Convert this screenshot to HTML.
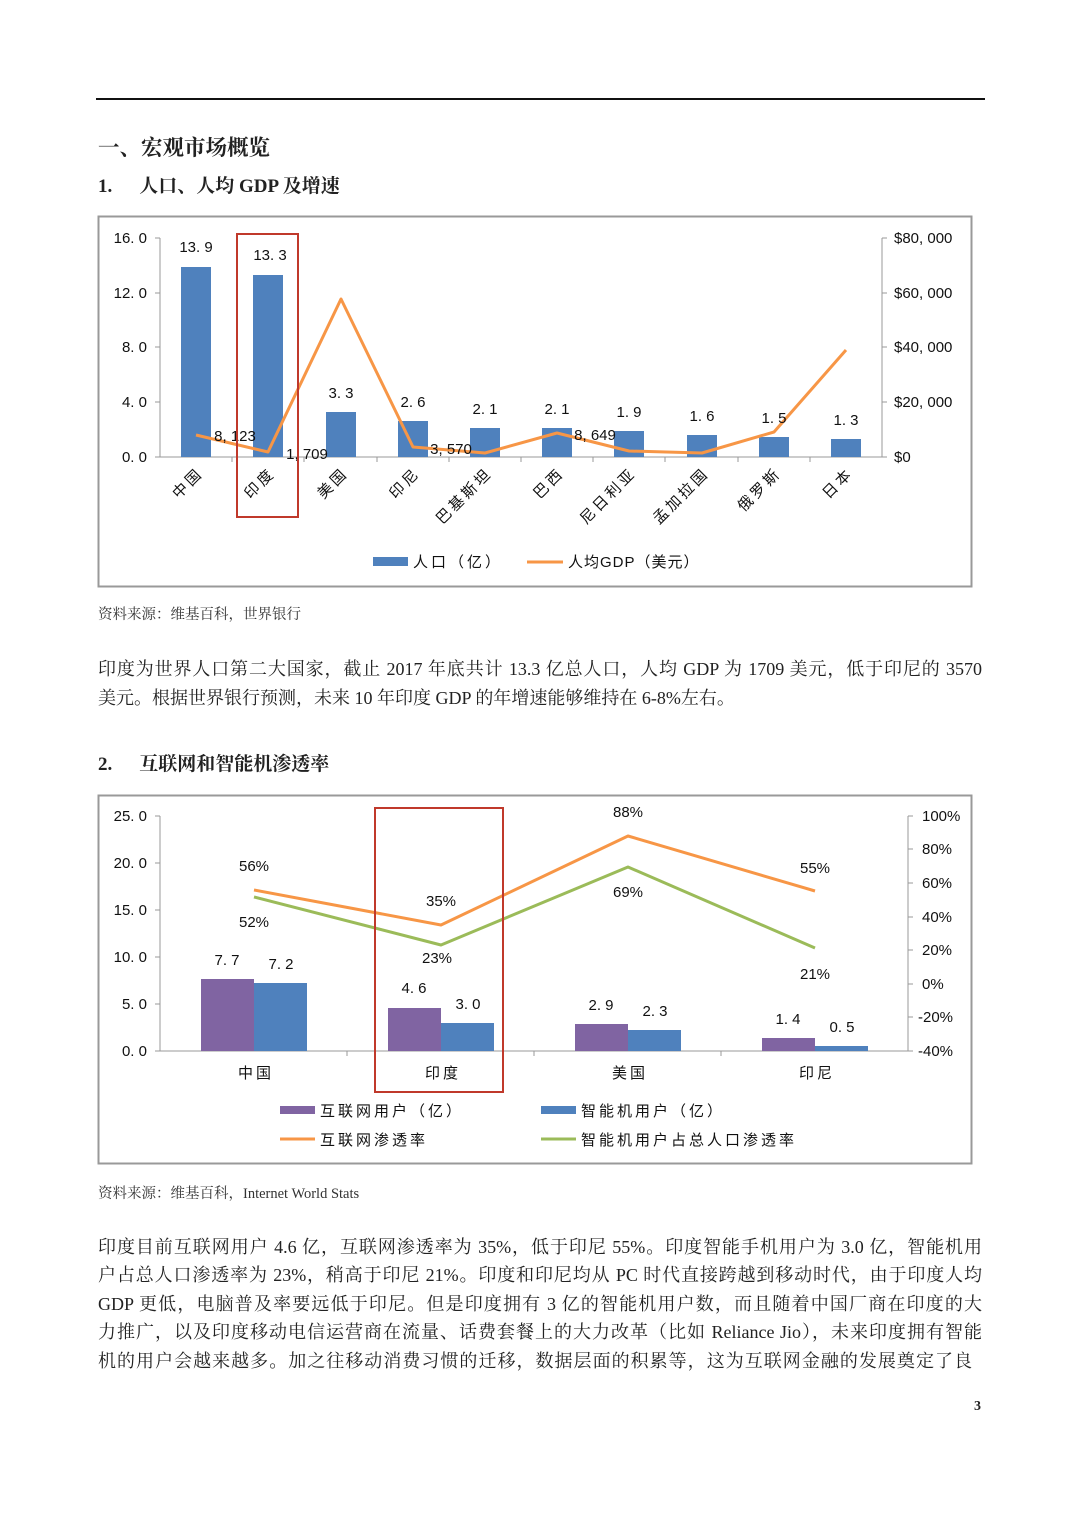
<!DOCTYPE html>
<html><head><meta charset="utf-8">
<style>
html,body{margin:0;padding:0;background:#fff;}
body{width:1080px;height:1528px;position:relative;overflow:hidden;font-family:"Liberation Serif","Noto Serif CJK SC",serif;color:#222;}
.t{position:absolute;white-space:nowrap;}
.h1{font-weight:bold;font-size:21.5px;}
.h2{font-weight:bold;font-size:19px;}
.src{font-size:14.5px;color:#333;}
.p{position:absolute;left:98px;width:884px;font-size:18px;line-height:28.5px;text-align:justify;text-align-last:justify;white-space:nowrap;}
.p.last{text-align-last:left;}
svg{position:absolute;left:0;top:0;}
svg text{font-family:"Liberation Sans","Noto Sans CJK SC",sans-serif;fill:#111;}
.sp{letter-spacing:3px;}
</style></head><body>
<div style="position:absolute;left:96px;top:98px;width:889px;height:2px;background:#111"></div>
<div class="t h1" style="left:98px;top:131px">一、宏观市场概览</div>
<div class="t h2" style="left:98px;top:171px">1.<span style="display:inline-block;width:27px"></span>人口、人均 GDP 及增速</div>
<div class="t src" style="left:98px;top:603px">资料来源：维基百科，世界银行</div>
<div class="p" style="top:655px">印度为世界人口第二大国家，截止 2017 年底共计 13.3 亿总人口，人均 GDP 为 1709 美元，低于印尼的 3570</div>
<div class="p last" style="top:684px">美元。根据世界银行预测，未来 10 年印度 GDP 的年增速能够维持在 6-8%左右。</div>
<div class="t h2" style="left:98px;top:749px">2.<span style="display:inline-block;width:27px"></span>互联网和智能机渗透率</div>
<div class="t src" style="left:98px;top:1182px">资料来源：维基百科，Internet World Stats</div>
<div class="p" style="top:1233px">印度目前互联网用户 4.6 亿，互联网渗透率为 35%，低于印尼 55%。印度智能手机用户为 3.0 亿，智能机用</div>
<div class="p" style="top:1261px">户占总人口渗透率为 23%，稍高于印尼 21%。印度和印尼均从 PC 时代直接跨越到移动时代，由于印度人均</div>
<div class="p" style="top:1290px">GDP 更低，电脑普及率要远低于印尼。但是印度拥有 3 亿的智能机用户数，而且随着中国厂商在印度的大</div>
<div class="p" style="top:1318px">力推广，以及印度移动电信运营商在流量、话费套餐上的大力改革（比如 Reliance Jio），未来印度拥有智能</div>
<div class="p" style="top:1347px;width:874px">机的用户会越来越多。加之往移动消费习惯的迁移，数据层面的积累等，这为互联网金融的发展奠定了良</div>
<div class="t" style="left:974px;top:1399px;font-size:14px;font-weight:bold">3</div>

<svg width="1080" height="1528" viewBox="0 0 1080 1528">
<!-- Chart 1 -->
<rect x="98.5" y="216.5" width="873" height="370" fill="none" stroke="#999" stroke-width="2"/>
<g stroke="#999" stroke-width="1">
<line x1="160" y1="238" x2="160" y2="457"/><line x1="882" y1="238" x2="882" y2="457"/>
<line x1="160" y1="457" x2="882" y2="457"/>
<line x1="155" y1="238" x2="160" y2="238"/><line x1="155" y1="293" x2="160" y2="293"/><line x1="155" y1="347" x2="160" y2="347"/><line x1="155" y1="402" x2="160" y2="402"/><line x1="155" y1="457" x2="160" y2="457"/>
<line x1="882" y1="238" x2="887" y2="238"/><line x1="882" y1="293" x2="887" y2="293"/><line x1="882" y1="347" x2="887" y2="347"/><line x1="882" y1="402" x2="887" y2="402"/><line x1="882" y1="457" x2="887" y2="457"/>
<line x1="232" y1="457" x2="232" y2="462"/><line x1="304" y1="457" x2="304" y2="462"/><line x1="377" y1="457" x2="377" y2="462"/><line x1="449" y1="457" x2="449" y2="462"/><line x1="521" y1="457" x2="521" y2="462"/><line x1="593" y1="457" x2="593" y2="462"/><line x1="665" y1="457" x2="665" y2="462"/><line x1="738" y1="457" x2="738" y2="462"/><line x1="810" y1="457" x2="810" y2="462"/>
</g>
<g font-size="15" text-anchor="end">
<text x="147" y="243">16. 0</text><text x="147" y="298">12. 0</text><text x="147" y="352">8. 0</text><text x="147" y="407">4. 0</text><text x="147" y="462">0. 0</text>
</g>
<g font-size="15">
<text x="894" y="243">$80, 000</text><text x="894" y="298">$60, 000</text><text x="894" y="352">$40, 000</text><text x="894" y="407">$20, 000</text><text x="894" y="462">$0</text>
</g>
<g fill="#4f81bd">
<rect x="181" y="267" width="30" height="190"/><rect x="253" y="275" width="30" height="182"/>
<rect x="326" y="412" width="30" height="45"/><rect x="398" y="421" width="30" height="36"/>
<rect x="470" y="428" width="30" height="29"/><rect x="542" y="428" width="30" height="29"/>
<rect x="614" y="431" width="30" height="26"/><rect x="687" y="435" width="30" height="22"/>
<rect x="759" y="437" width="30" height="20"/><rect x="831" y="439" width="30" height="18"/>
</g>
<polyline fill="none" stroke="#f79646" stroke-width="3" stroke-linejoin="round" points="196,435 268,452 341,299 413,447 485,453 557,433 629,451 702,453 774,432 846,350"/>
<g font-size="15" text-anchor="middle">
<text x="196" y="252">13. 9</text><text x="270" y="260">13. 3</text><text x="341" y="398">3. 3</text><text x="413" y="407">2. 6</text><text x="485" y="414">2. 1</text><text x="557" y="414">2. 1</text><text x="629" y="417">1. 9</text><text x="702" y="421">1. 6</text><text x="774" y="423">1. 5</text><text x="846" y="425">1. 3</text>
<text x="235" y="441">8, 123</text><text x="307" y="459">1, 709</text><text x="451" y="454">3, 570</text><text x="595" y="440">8, 649</text>
</g>
<g font-size="15" text-anchor="end" class="sp">
<text transform="translate(204,474) rotate(-45)">中国</text>
<text transform="translate(276,474) rotate(-45)">印度</text>
<text transform="translate(349,474) rotate(-45)">美国</text>
<text transform="translate(421,474) rotate(-45)">印尼</text>
<text transform="translate(493,474) rotate(-45)">巴基斯坦</text>
<text transform="translate(565,474) rotate(-45)">巴西</text>
<text transform="translate(637,474) rotate(-45)">尼日利亚</text>
<text transform="translate(710,474) rotate(-45)">孟加拉国</text>
<text transform="translate(782,474) rotate(-45)">俄罗斯</text>
<text transform="translate(854,474) rotate(-45)">日本</text>
</g>
<rect x="237" y="234" width="61" height="283" fill="none" stroke="#c0392b" stroke-width="2"/>
<rect x="373" y="557" width="35" height="9" fill="#4f81bd"/>
<text x="413" y="567" font-size="15" class="sp">人口（亿）</text>
<line x1="527" y1="562" x2="563" y2="562" stroke="#f79646" stroke-width="3"/>
<text x="568" y="567" font-size="15" letter-spacing="1">人均GDP（美元）</text>

<!-- Chart 2 -->
<rect x="98.5" y="795.5" width="873" height="368" fill="none" stroke="#999" stroke-width="2"/>
<g stroke="#999" stroke-width="1">
<line x1="160" y1="816" x2="160" y2="1051"/><line x1="908" y1="816" x2="908" y2="1051"/>
<line x1="160" y1="1051" x2="908" y2="1051"/>
<line x1="155" y1="816" x2="160" y2="816"/><line x1="155" y1="863" x2="160" y2="863"/><line x1="155" y1="910" x2="160" y2="910"/><line x1="155" y1="957" x2="160" y2="957"/><line x1="155" y1="1004" x2="160" y2="1004"/><line x1="155" y1="1051" x2="160" y2="1051"/>
<line x1="908" y1="816" x2="913" y2="816"/><line x1="908" y1="849" x2="913" y2="849"/><line x1="908" y1="883" x2="913" y2="883"/><line x1="908" y1="917" x2="913" y2="917"/><line x1="908" y1="950" x2="913" y2="950"/><line x1="908" y1="984" x2="913" y2="984"/><line x1="908" y1="1017" x2="913" y2="1017"/><line x1="908" y1="1051" x2="913" y2="1051"/>
<line x1="347" y1="1051" x2="347" y2="1056"/><line x1="534" y1="1051" x2="534" y2="1056"/><line x1="721" y1="1051" x2="721" y2="1056"/>
</g>
<g font-size="15" text-anchor="end">
<text x="147" y="821">25. 0</text><text x="147" y="868">20. 0</text><text x="147" y="915">15. 0</text><text x="147" y="962">10. 0</text><text x="147" y="1009">5. 0</text><text x="147" y="1056">0. 0</text>
</g>
<g font-size="15">
<text x="922" y="821">100%</text><text x="922" y="854">80%</text><text x="922" y="888">60%</text><text x="922" y="922">40%</text><text x="922" y="955">20%</text><text x="922" y="989">0%</text><text x="918" y="1022">-20%</text><text x="918" y="1056">-40%</text>
</g>
<g>
<rect x="201" y="979" width="53" height="72" fill="#8064a2"/><rect x="254" y="983" width="53" height="68" fill="#4f81bd"/>
<rect x="388" y="1008" width="53" height="43" fill="#8064a2"/><rect x="441" y="1023" width="53" height="28" fill="#4f81bd"/>
<rect x="575" y="1024" width="53" height="27" fill="#8064a2"/><rect x="628" y="1030" width="53" height="21" fill="#4f81bd"/>
<rect x="762" y="1038" width="53" height="13" fill="#8064a2"/><rect x="815" y="1046" width="53" height="5" fill="#4f81bd"/>
</g>
<polyline fill="none" stroke="#f79646" stroke-width="3" stroke-linejoin="round" points="254,890 441,925 628,836 815,891"/>
<polyline fill="none" stroke="#9bbb59" stroke-width="3" stroke-linejoin="round" points="254,897 441,945 628,867 815,948"/>
<g font-size="15" text-anchor="middle">
<text x="227" y="965">7. 7</text><text x="281" y="969">7. 2</text><text x="414" y="993">4. 6</text><text x="468" y="1009">3. 0</text><text x="601" y="1010">2. 9</text><text x="655" y="1016">2. 3</text><text x="788" y="1024">1. 4</text><text x="842" y="1032">0. 5</text>
<text x="254" y="871">56%</text><text x="254" y="927">52%</text><text x="441" y="906">35%</text><text x="437" y="963">23%</text><text x="628" y="817">88%</text><text x="628" y="897">69%</text><text x="815" y="873">55%</text><text x="815" y="979">21%</text>
</g>
<g font-size="15" text-anchor="middle" class="sp">
<text x="256" y="1078">中国</text><text x="443" y="1078">印度</text><text x="630" y="1078">美国</text><text x="817" y="1078">印尼</text>
</g>
<rect x="375" y="808" width="128" height="284" fill="none" stroke="#c0392b" stroke-width="2"/>
<rect x="280" y="1106" width="35" height="8" fill="#8064a2"/>
<text x="320" y="1116" font-size="15" class="sp">互联网用户（亿）</text>
<rect x="541" y="1106" width="35" height="8" fill="#4f81bd"/>
<text x="581" y="1116" font-size="15" class="sp">智能机用户（亿）</text>
<line x1="280" y1="1139" x2="315" y2="1139" stroke="#f79646" stroke-width="3"/>
<text x="320" y="1145" font-size="15" class="sp">互联网渗透率</text>
<line x1="541" y1="1139" x2="576" y2="1139" stroke="#9bbb59" stroke-width="3"/>
<text x="581" y="1145" font-size="15" class="sp">智能机用户占总人口渗透率</text>
</svg>
</body></html>
